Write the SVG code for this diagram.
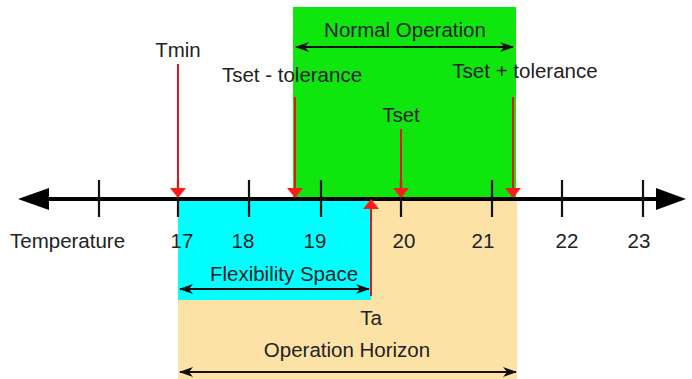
<svg xmlns="http://www.w3.org/2000/svg" width="692" height="379" viewBox="0 0 692 379">
  <defs>
    <style>
      text { font-family: "Liberation Sans", Arial, sans-serif; font-size: 20.5px; fill: #222; }
      .mid { text-anchor: middle; }
      .axis { stroke: #000; stroke-width: 4; }
      .tick { stroke: #111; stroke-width: 2.2; }
      .ptr { stroke: #e8141c; stroke-width: 2; fill: none; }
      .span { stroke: #111; stroke-width: 2; fill: none; }
    </style>
    <marker id="redHead" viewBox="0 0 10 16" refX="9" refY="8" markerWidth="10" markerHeight="16" markerUnits="userSpaceOnUse" orient="auto">
      <path d="M0,0 L16,8 L0,16 Z" transform="scale(0.625,1)" fill="#ff1a1a"/>
    </marker>
    <marker id="spanHead" viewBox="0 0 14 10" refX="13" refY="5" markerWidth="14" markerHeight="10" markerUnits="userSpaceOnUse" orient="auto-start-reverse">
      <path d="M0,0 L14,5 L0,10 L4,5 Z" fill="#111"/>
    </marker>
  </defs>

  <!-- background regions -->
  <g id="regions">
    <rect id="normal-zone" x="293" y="7" width="223" height="192" fill="#0ee60e"/>
    <rect id="horizon-zone" x="178" y="199" width="339" height="180" fill="#fde2a6"/>
    <rect id="flex-zone" x="178" y="199" width="193" height="101" fill="#00ffff"/>
  </g>

  <!-- temperature axis -->
  <g id="axis">
    <line class="axis" x1="45" y1="199" x2="660" y2="199"/>
    <polygon points="18,199 49,188 49,210" fill="#000"/>
    <polygon points="686,199 656,188 656,210" fill="#000"/>
    <line class="tick" x1="99" y1="180" x2="99" y2="217"/>
    <line class="tick" x1="178" y1="180" x2="178" y2="217"/>
    <line class="tick" x1="249" y1="180" x2="249" y2="217"/>
    <line class="tick" x1="321" y1="180" x2="321" y2="217"/>
    <line class="tick" x1="401" y1="180" x2="401" y2="217"/>
    <line class="tick" x1="492" y1="180" x2="492" y2="217"/>
    <line class="tick" x1="562" y1="180" x2="562" y2="217"/>
    <line class="tick" x1="643" y1="180" x2="643" y2="217"/>
    <text x="10" y="248">Temperature</text>
    <text class="mid" x="182" y="248">17</text>
    <text class="mid" x="243" y="248">18</text>
    <text class="mid" x="315" y="248">19</text>
    <text class="mid" x="404" y="248">20</text>
    <text class="mid" x="483" y="248">21</text>
    <text class="mid" x="567" y="248">22</text>
    <text class="mid" x="639" y="248">23</text>
  </g>

  <!-- connectors: threshold pointers and range spans -->
  <g id="connectors">
    <line class="ptr" x1="178" y1="64" x2="178" y2="197" marker-end="url(#redHead)"/>
    <line class="ptr" x1="295" y1="97" x2="295" y2="197" marker-end="url(#redHead)"/>
    <line class="ptr" x1="401" y1="129" x2="401" y2="197" marker-end="url(#redHead)"/>
    <line class="ptr" x1="513" y1="97" x2="513" y2="197" marker-end="url(#redHead)"/>
    <line class="ptr" x1="371" y1="296" x2="371" y2="200" marker-end="url(#redHead)"/>
    <line class="span" x1="296" y1="47" x2="513" y2="47" marker-start="url(#spanHead)" marker-end="url(#spanHead)"/>
    <line class="span" x1="180" y1="289" x2="369" y2="289" marker-start="url(#spanHead)" marker-end="url(#spanHead)"/>
    <line class="span" x1="180" y1="372" x2="516" y2="372" marker-start="url(#spanHead)" marker-end="url(#spanHead)"/>
  </g>

  <!-- labels -->
  <g id="label-normal"><text class="mid" x="405" y="37">Normal Operation</text></g>
  <g id="label-tmin"><text class="mid" x="178" y="57">Tmin</text></g>
  <g id="label-tset-minus"><text class="mid" x="292" y="82">Tset - tolerance</text></g>
  <g id="label-tset-plus"><text class="mid" x="525" y="78">Tset + tolerance</text></g>
  <g id="label-tset"><text class="mid" x="401" y="122">Tset</text></g>
  <g id="label-flex"><text class="mid" x="284" y="281">Flexibility Space</text></g>
  <g id="label-ta"><text class="mid" x="371" y="325">Ta</text></g>
  <g id="label-horizon"><text class="mid" x="347" y="357">Operation Horizon</text></g>
</svg>
